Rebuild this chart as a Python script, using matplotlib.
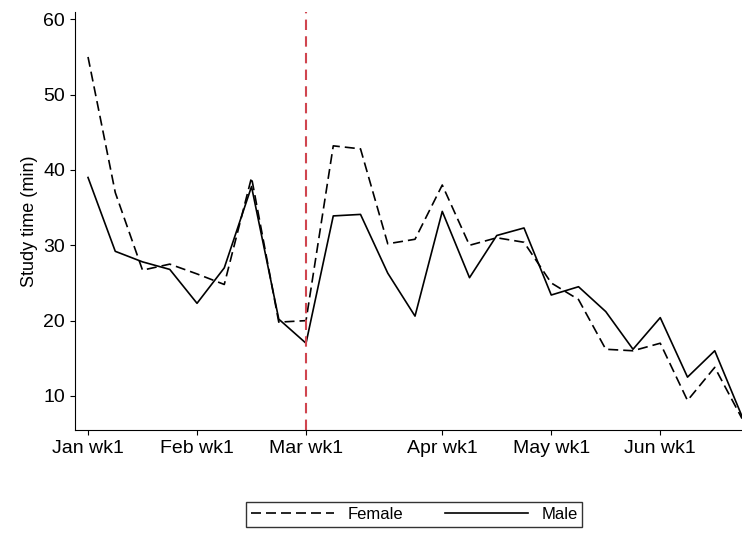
import matplotlib
matplotlib.use('Agg')
import matplotlib.pyplot as plt

plt.rcParams['font.family'] = ['Liberation Sans', 'DejaVu Sans']

weeks = list(range(25))
female = [55, 37, 26.7, 27.5, 26.2, 24.8, 39, 19.8, 20, 43.2, 42.8, 30.2, 30.8,
          38, 30, 31, 30.4, 25, 22.8, 16.2, 16, 17, 9.4, 13.8, 7]
male = [39, 29.2, 27.8, 26.8, 22.3, 27, 37.8, 20.2, 17, 33.9, 34.1, 26.3, 20.6,
        34.5, 25.7, 31.3, 32.3, 23.4, 24.5, 21.2, 16.2, 20.4, 12.5, 16, 7.3]
tick_pos = [0, 4, 8, 13, 17, 21]
tick_labels = ['Jan wk1', 'Feb wk1', 'Mar wk1', 'Apr wk1', 'May wk1', 'Jun wk1']
event_week = 8

fig = plt.figure(figsize=(7.42, 5.34), dpi=100)
ax = fig.add_axes([0.101, 0.195, 0.899, 0.783])
lf, = ax.plot(weeks, female, color='black', lw=1.2, ls=(0, (6, 3)), label='Female')
lm, = ax.plot(weeks, male, color='black', lw=1.2, label='Male')
ax.axvline(event_week, color='#d0454f', ls=(0, (5, 3)), lw=1.5)

ax.set_xlim(-0.48, 24)
ax.set_ylim(5.5, 61)
ax.set_xticks(tick_pos)
ax.set_xticklabels(tick_labels, fontsize=14)
ax.set_yticks([10, 20, 30, 40, 50, 60])
ax.set_yticklabels(['10', '20', '30', '40', '50', '60'], fontsize=14)
ax.set_ylabel('Study time (min)', fontsize=13)
ax.spines['top'].set_visible(False)
ax.spines['right'].set_visible(False)

fig.legend(handles=[lf, lm], loc='center', bbox_to_anchor=(0.558, 0.036), ncol=2,
           frameon=True, fancybox=False, edgecolor='black', fontsize=12,
           handlelength=5, columnspacing=2.5, borderpad=0.3)

fig.savefig('out.png', dpi=100)
